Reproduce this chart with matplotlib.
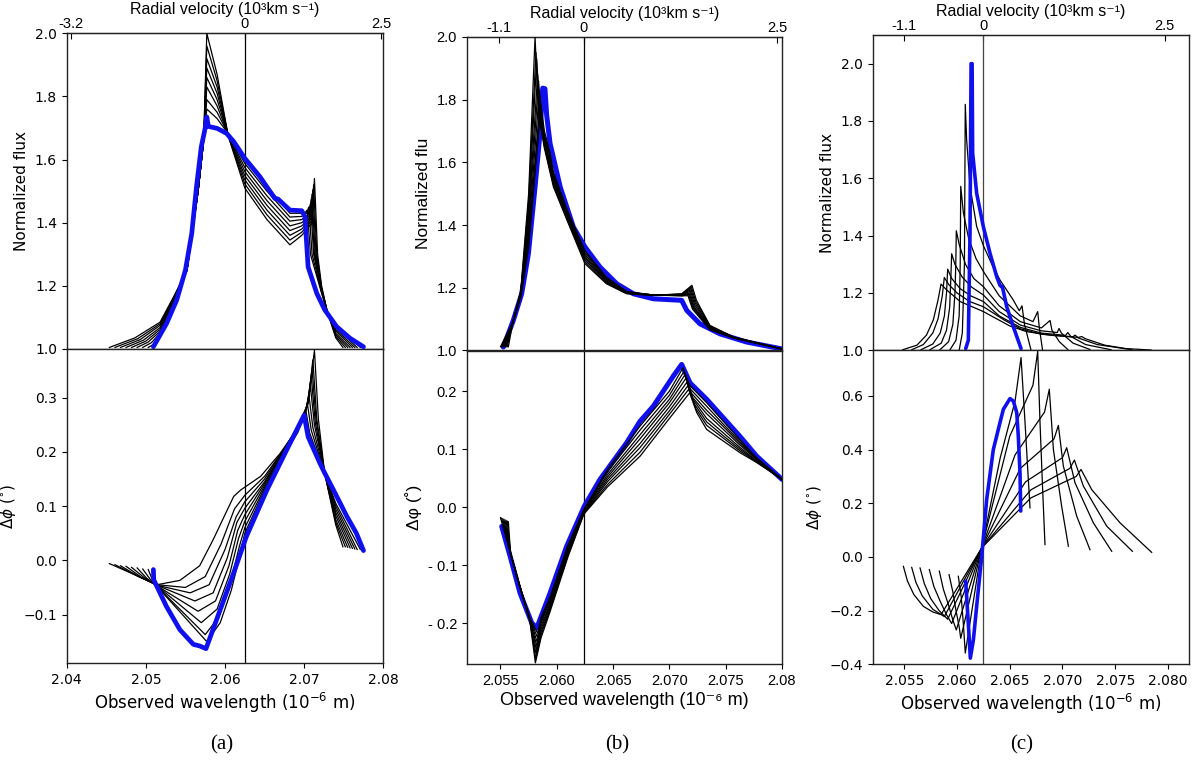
import matplotlib
matplotlib.use("Agg")
import matplotlib.pyplot as plt

C_KMS = 299792.458
W, H = 1200, 763

# ======================= panel (a) data =======================
a_lam0 = 2.0625
a_xlim = (2.04, 2.08)
a_xticks = [2.04, 2.05, 2.06, 2.07, 2.08]
a_xticklabels = ['2.04', '2.05', '2.06', '2.07', '2.08']
a_vticks = [-3.2, 0, 2.5]
a_vticklabels = ['-3.2', '0', '2.5']
a_flux_ylim = (1.0, 2.0)
a_flux_yticks = [1.0, 1.2, 1.4, 1.6, 1.8, 2.0]
a_flux_yticklabels = ['1.0', '1.2', '1.4', '1.6', '1.8', '2.0']
a_dphi_ylim = (-0.19, 0.39)
a_dphi_yticks = [-0.1, 0.0, 0.1, 0.2, 0.3]
a_dphi_yticklabels = ['\u22120.1', '0.0', '0.1', '0.2', '0.3']

a_flux_blue_x = [2.05095, 2.0526, 2.0539, 2.0550, 2.0558, 2.0564, 2.0570, 2.0575, 2.0577, 2.0579,
                 2.0590, 2.0602, 2.0611, 2.0625, 2.0644, 2.0663, 2.0667, 2.0682, 2.0697, 2.0701,
                 2.0705, 2.0716, 2.0726, 2.0741, 2.0758, 2.0775]
a_flux_blue_y = [1.007, 1.080, 1.155, 1.250, 1.366, 1.514, 1.640, 1.700, 1.735, 1.705,
                 1.699, 1.683, 1.657, 1.604, 1.546, 1.477, 1.475, 1.440, 1.438, 1.419,
                 1.260, 1.176, 1.124, 1.071, 1.034, 1.007]
a_flux_black_x = [
    [2.0454, 2.0486, 2.0518, 2.0536, 2.0552, 2.0566, 2.0573, 2.0577, 2.0590, 2.0604, 2.0625, 2.0653, 2.0682, 2.0697, 2.0710, 2.0713, 2.0717, 2.0722, 2.0729, 2.0740, 2.0749],
    [2.0461, 2.0490, 2.0518, 2.0536, 2.0552, 2.0566, 2.0573, 2.0577, 2.0590, 2.0604, 2.0625, 2.0653, 2.0682, 2.0697, 2.0709, 2.0712, 2.0716, 2.0722, 2.0729, 2.0740, 2.0752],
    [2.0468, 2.0493, 2.0518, 2.0536, 2.0552, 2.0566, 2.0573, 2.0577, 2.0590, 2.0604, 2.0625, 2.0653, 2.0682, 2.0697, 2.0708, 2.0711, 2.0715, 2.0722, 2.0729, 2.0740, 2.0755],
    [2.0475, 2.0497, 2.0518, 2.0536, 2.0552, 2.0566, 2.0573, 2.0577, 2.0590, 2.0604, 2.0625, 2.0653, 2.0682, 2.0697, 2.0707, 2.0710, 2.0714, 2.0722, 2.0729, 2.0740, 2.0758],
    [2.0482, 2.0500, 2.0518, 2.0536, 2.0552, 2.0566, 2.0573, 2.0577, 2.0590, 2.0604, 2.0625, 2.0653, 2.0682, 2.0697, 2.0706, 2.0709, 2.0713, 2.0722, 2.0729, 2.0740, 2.0761],
    [2.0489, 2.0503, 2.0518, 2.0536, 2.0552, 2.0566, 2.0573, 2.0577, 2.0590, 2.0604, 2.0625, 2.0653, 2.0682, 2.0697, 2.0705, 2.0708, 2.0712, 2.0722, 2.0729, 2.0740, 2.0764],
    [2.0496, 2.0507, 2.0518, 2.0536, 2.0552, 2.0566, 2.0573, 2.0577, 2.0590, 2.0604, 2.0625, 2.0653, 2.0682, 2.0697, 2.0703, 2.0706, 2.0710, 2.0722, 2.0729, 2.0740, 2.0767],
    [2.0503, 2.0510, 2.0518, 2.0536, 2.0552, 2.0566, 2.0573, 2.0577, 2.0590, 2.0604, 2.0625, 2.0653, 2.0682, 2.0697, 2.0701, 2.0704, 2.0708, 2.0722, 2.0729, 2.0740, 2.0771],
]
a_flux_black_y = [
    [1.005, 1.035, 1.085, 1.170, 1.250, 1.500, 1.660, 2.000, 1.870, 1.675, 1.510, 1.410, 1.330, 1.360, 1.400, 1.540, 1.300, 1.200, 1.120, 1.035, 1.005],
    [1.005, 1.033, 1.080, 1.167, 1.250, 1.500, 1.660, 1.960, 1.850, 1.676, 1.523, 1.425, 1.345, 1.370, 1.405, 1.520, 1.300, 1.195, 1.120, 1.040, 1.005],
    [1.005, 1.030, 1.075, 1.164, 1.250, 1.500, 1.660, 1.920, 1.830, 1.677, 1.536, 1.440, 1.360, 1.380, 1.410, 1.505, 1.300, 1.192, 1.120, 1.045, 1.005],
    [1.005, 1.028, 1.068, 1.161, 1.250, 1.500, 1.660, 1.890, 1.810, 1.678, 1.549, 1.455, 1.375, 1.390, 1.415, 1.490, 1.300, 1.189, 1.120, 1.050, 1.005],
    [1.005, 1.025, 1.062, 1.158, 1.250, 1.500, 1.660, 1.860, 1.790, 1.679, 1.562, 1.470, 1.390, 1.400, 1.420, 1.475, 1.300, 1.186, 1.120, 1.057, 1.005],
    [1.005, 1.022, 1.056, 1.155, 1.250, 1.500, 1.660, 1.830, 1.770, 1.680, 1.575, 1.485, 1.405, 1.410, 1.425, 1.460, 1.300, 1.183, 1.120, 1.062, 1.005],
    [1.005, 1.020, 1.050, 1.152, 1.250, 1.500, 1.660, 1.790, 1.750, 1.681, 1.588, 1.500, 1.418, 1.420, 1.430, 1.450, 1.300, 1.180, 1.120, 1.068, 1.005],
    [1.005, 1.015, 1.045, 1.150, 1.250, 1.500, 1.660, 1.760, 1.730, 1.682, 1.600, 1.515, 1.430, 1.430, 1.432, 1.440, 1.300, 1.177, 1.120, 1.075, 1.005],
]
a_dphi_blue_x = [2.05095, 2.0510, 2.0526, 2.0543, 2.0560, 2.0568, 2.0576, 2.0611, 2.0627, 2.0653,
                 2.0678, 2.0700, 2.0705, 2.0720, 2.0726, 2.0737, 2.0754, 2.0766, 2.0775]
a_dphi_blue_y = [-0.017, -0.036, -0.085, -0.128, -0.155, -0.158, -0.163, -0.023, 0.044, 0.130,
                 0.204, 0.268, 0.228, 0.179, 0.161, 0.130, 0.081, 0.050, 0.018]
a_dphi_black_x = [
    [2.0454, 2.0485, 2.0514, 2.0543, 2.0568, 2.0585, 2.0611, 2.0620, 2.0645, 2.0670, 2.0690, 2.0705, 2.0713, 2.0718, 2.0726, 2.0740, 2.0749],
    [2.0461, 2.0488, 2.0514, 2.0550, 2.0575, 2.0595, 2.0612, 2.0625, 2.0650, 2.0672, 2.0692, 2.0705, 2.0711, 2.0716, 2.0726, 2.0740, 2.0752],
    [2.0468, 2.0491, 2.0514, 2.0556, 2.0580, 2.0600, 2.0614, 2.0625, 2.0650, 2.0672, 2.0692, 2.0704, 2.0710, 2.0715, 2.0726, 2.0740, 2.0755],
    [2.0475, 2.0494, 2.0514, 2.0562, 2.0585, 2.0603, 2.0615, 2.0625, 2.0650, 2.0672, 2.0692, 2.0703, 2.0709, 2.0714, 2.0726, 2.0740, 2.0758],
    [2.0482, 2.0498, 2.0514, 2.0566, 2.0588, 2.0605, 2.0616, 2.0625, 2.0650, 2.0672, 2.0692, 2.0702, 2.0708, 2.0713, 2.0726, 2.0740, 2.0761],
    [2.0489, 2.0501, 2.0514, 2.0570, 2.0590, 2.0606, 2.0617, 2.0625, 2.0650, 2.0672, 2.0692, 2.0701, 2.0706, 2.0711, 2.0726, 2.0740, 2.0764],
    [2.0496, 2.0505, 2.0514, 2.0575, 2.0592, 2.0607, 2.0618, 2.0625, 2.0650, 2.0672, 2.0692, 2.0700, 2.0704, 2.0709, 2.0726, 2.0740, 2.0767],
    [2.0503, 2.0508, 2.0514, 2.0577, 2.0594, 2.0608, 2.0619, 2.0625, 2.0650, 2.0672, 2.0692, 2.0698, 2.0702, 2.0707, 2.0726, 2.0740, 2.0771],
]
a_dphi_black_y = [
    [-0.006, -0.026, -0.045, -0.037, -0.010, 0.038, 0.118, 0.130, 0.155, 0.198, 0.240, 0.290, 0.388, 0.260, 0.160, 0.065, 0.025],
    [-0.008, -0.028, -0.045, -0.050, -0.030, 0.030, 0.095, 0.120, 0.155, 0.200, 0.245, 0.290, 0.370, 0.260, 0.160, 0.070, 0.025],
    [-0.010, -0.030, -0.046, -0.060, -0.045, 0.020, 0.080, 0.108, 0.150, 0.200, 0.245, 0.285, 0.352, 0.260, 0.160, 0.075, 0.024],
    [-0.011, -0.031, -0.046, -0.075, -0.060, 0.005, 0.070, 0.096, 0.145, 0.198, 0.243, 0.280, 0.338, 0.255, 0.160, 0.082, 0.023],
    [-0.013, -0.032, -0.047, -0.094, -0.075, -0.010, 0.055, 0.084, 0.142, 0.196, 0.242, 0.275, 0.320, 0.250, 0.160, 0.088, 0.022],
    [-0.014, -0.033, -0.047, -0.115, -0.090, -0.025, 0.040, 0.072, 0.138, 0.194, 0.240, 0.270, 0.305, 0.245, 0.160, 0.094, 0.021],
    [-0.016, -0.034, -0.048, -0.137, -0.105, -0.040, 0.025, 0.060, 0.134, 0.192, 0.238, 0.265, 0.290, 0.240, 0.160, 0.100, 0.020],
    [-0.017, -0.035, -0.048, -0.150, -0.115, -0.055, 0.010, 0.050, 0.130, 0.190, 0.236, 0.260, 0.278, 0.235, 0.160, 0.105, 0.020],
]

# ======================= panel (b) data =======================
b_lam0 = 2.0624
b_xlim = (2.052, 2.080)
b_xticks = [2.055, 2.060, 2.065, 2.070, 2.075, 2.080]
b_xticklabels = ['2.055', '2.060', '2.065', '2.070', '2.075', '2.08']
b_vticks = [-1.1, 0, 2.5]
b_vticklabels = ['-1.1', '0', '2.5']
b_flux_ylim = (1.0, 2.0)
b_flux_yticks = [1.0, 1.2, 1.4, 1.6, 1.8, 2.0]
b_flux_yticklabels = ['1.0', '1.2', '1.4', '1.6', '1.8', '2.0']
b_dphi_ylim = (-0.27, 0.27)
b_dphi_yticks = [-0.2, -0.1, 0.0, 0.1, 0.2]
b_dphi_yticklabels = ['- 0.2', '- 0.1', '0.0', '0.1', '0.2']

b_flux_blue_x = [2.05525, 2.05614, 2.05688, 2.05748, 2.05807, 2.05851, 2.05875, 2.05895, 2.0591, 2.0594,
                 2.0603, 2.06147, 2.06251, 2.06384, 2.06532, 2.0668, 2.06857, 2.07109, 2.07154, 2.07272,
                 2.0745, 2.07686, 2.0800]
b_flux_blue_y = [1.011, 1.096, 1.181, 1.309, 1.522, 1.693, 1.837, 1.835, 1.751, 1.661,
                 1.522, 1.394, 1.330, 1.266, 1.213, 1.181, 1.165, 1.160, 1.128, 1.085,
                 1.053, 1.027, 1.005]
b_flux_black_x = [
    [2.0550, 2.0561, 2.0568, 2.0575, 2.05807, 2.05837, 2.05887, 2.0597, 2.0609, 2.0625, 2.0644, 2.0662, 2.0686, 2.0711, 2.07200, 2.07240, 2.0736, 2.0757, 2.0800],
    [2.0551, 2.0561, 2.0568, 2.0575, 2.05815, 2.05845, 2.05895, 2.0597, 2.0609, 2.0625, 2.0644, 2.0662, 2.0686, 2.0711, 2.07195, 2.07235, 2.0736, 2.0757, 2.0800],
    [2.0552, 2.0561, 2.0568, 2.0575, 2.05822, 2.05852, 2.05902, 2.0597, 2.0609, 2.0625, 2.0644, 2.0662, 2.0686, 2.0711, 2.07190, 2.07230, 2.0736, 2.0757, 2.0800],
    [2.0553, 2.0561, 2.0568, 2.0575, 2.05830, 2.05860, 2.05910, 2.0597, 2.0609, 2.0625, 2.0644, 2.0662, 2.0686, 2.0711, 2.07185, 2.07225, 2.0736, 2.0757, 2.0800],
    [2.0554, 2.0561, 2.0568, 2.0575, 2.05838, 2.05868, 2.05918, 2.0597, 2.0609, 2.0625, 2.0644, 2.0662, 2.0686, 2.0711, 2.07180, 2.07220, 2.0736, 2.0757, 2.0800],
    [2.0555, 2.0561, 2.0568, 2.0575, 2.05846, 2.05876, 2.05926, 2.0597, 2.0609, 2.0625, 2.0644, 2.0662, 2.0686, 2.0711, 2.07175, 2.07215, 2.0736, 2.0757, 2.0800],
    [2.0556, 2.0561, 2.0568, 2.0575, 2.05853, 2.05883, 2.05933, 2.0597, 2.0609, 2.0625, 2.0644, 2.0662, 2.0686, 2.0711, 2.07170, 2.07210, 2.0736, 2.0757, 2.0800],
    [2.0557, 2.0561, 2.0568, 2.0575, 2.05860, 2.05890, 2.05940, 2.0597, 2.0609, 2.0625, 2.0644, 2.0662, 2.0686, 2.0711, 2.07165, 2.07205, 2.0736, 2.0757, 2.0800],
]
b_flux_black_y = [
    [1.012, 1.090, 1.190, 1.500, 2.000, 1.760, 1.650, 1.522, 1.416, 1.277, 1.213, 1.181, 1.176, 1.181, 1.208, 1.160, 1.080, 1.043, 1.005],
    [1.012, 1.090, 1.187, 1.476, 1.950, 1.745, 1.645, 1.529, 1.421, 1.283, 1.216, 1.182, 1.176, 1.180, 1.203, 1.155, 1.078, 1.043, 1.005],
    [1.012, 1.090, 1.184, 1.451, 1.930, 1.730, 1.640, 1.536, 1.426, 1.289, 1.219, 1.183, 1.176, 1.179, 1.198, 1.150, 1.076, 1.042, 1.005],
    [1.012, 1.090, 1.181, 1.427, 1.880, 1.720, 1.640, 1.543, 1.431, 1.295, 1.222, 1.184, 1.176, 1.178, 1.193, 1.145, 1.074, 1.042, 1.005],
    [1.012, 1.090, 1.179, 1.403, 1.860, 1.710, 1.635, 1.550, 1.435, 1.300, 1.225, 1.185, 1.177, 1.177, 1.188, 1.140, 1.072, 1.041, 1.005],
    [1.012, 1.090, 1.176, 1.379, 1.830, 1.700, 1.635, 1.557, 1.440, 1.306, 1.228, 1.186, 1.177, 1.176, 1.183, 1.138, 1.070, 1.041, 1.005],
    [1.012, 1.090, 1.173, 1.354, 1.800, 1.700, 1.630, 1.563, 1.445, 1.312, 1.231, 1.187, 1.177, 1.175, 1.179, 1.135, 1.068, 1.040, 1.005],
    [1.012, 1.090, 1.170, 1.330, 1.780, 1.700, 1.630, 1.570, 1.450, 1.318, 1.234, 1.188, 1.177, 1.174, 1.175, 1.132, 1.066, 1.040, 1.005],
]
b_dphi_blue_x = [2.05511, 2.05585, 2.05674, 2.05777, 2.05822, 2.0594, 2.06088, 2.06245, 2.06384, 2.0662,
                 2.06739, 2.06857, 2.07035, 2.07109, 2.07184, 2.07331, 2.07479, 2.07627, 2.07775, 2.0800]
b_dphi_blue_y = [-0.033, -0.084, -0.148, -0.199, -0.208, -0.148, -0.067, 0.002, 0.048, 0.111,
                 0.148, 0.174, 0.226, 0.246, 0.214, 0.186, 0.154, 0.122, 0.088, 0.048]
b_dphi_black_x = [
    [2.0550, 2.0559, 2.0567, 2.0576, 2.05810, 2.0586, 2.0594, 2.0610, 2.0624, 2.0645, 2.0674, 2.0700, 2.07180, 2.07243, 2.07331, 2.07479, 2.07627, 2.07775, 2.0800],
    [2.0551, 2.0559, 2.0567, 2.0576, 2.05813, 2.0586, 2.0594, 2.0610, 2.0624, 2.0645, 2.0674, 2.0700, 2.07171, 2.07234, 2.07331, 2.07479, 2.07627, 2.07775, 2.0800],
    [2.0552, 2.0559, 2.0567, 2.0576, 2.05816, 2.0586, 2.0594, 2.0610, 2.0624, 2.0645, 2.0674, 2.0700, 2.07163, 2.07225, 2.07331, 2.07479, 2.07627, 2.07775, 2.0800],
    [2.0553, 2.0559, 2.0567, 2.0576, 2.05819, 2.0586, 2.0594, 2.0610, 2.0624, 2.0645, 2.0674, 2.0700, 2.07154, 2.07216, 2.07331, 2.07479, 2.07627, 2.07775, 2.0800],
    [2.0554, 2.0559, 2.0567, 2.0576, 2.05822, 2.0586, 2.0594, 2.0610, 2.0624, 2.0645, 2.0674, 2.0700, 2.07146, 2.07207, 2.07331, 2.07479, 2.07627, 2.07775, 2.0800],
    [2.0555, 2.0559, 2.0567, 2.0576, 2.05825, 2.0586, 2.0594, 2.0610, 2.0624, 2.0645, 2.0674, 2.0700, 2.07137, 2.07198, 2.07331, 2.07479, 2.07627, 2.07775, 2.0800],
    [2.0556, 2.0559, 2.0567, 2.0576, 2.05828, 2.0586, 2.0594, 2.0610, 2.0624, 2.0645, 2.0674, 2.0700, 2.07129, 2.07189, 2.07331, 2.07479, 2.07627, 2.07775, 2.0800],
    [2.0557, 2.0559, 2.0567, 2.0576, 2.05830, 2.0586, 2.0594, 2.0610, 2.0624, 2.0645, 2.0674, 2.0700, 2.07120, 2.07180, 2.07331, 2.07479, 2.07627, 2.07775, 2.0800],
]
b_dphi_black_y = [
    [-0.018, -0.080, -0.135, -0.195, -0.268, -0.225, -0.180, -0.085, -0.012, 0.035, 0.088, 0.153, 0.197, 0.163, 0.134, 0.114, 0.094, 0.077, 0.048],
    [-0.019, -0.080, -0.135, -0.194, -0.261, -0.220, -0.176, -0.082, -0.011, 0.039, 0.095, 0.160, 0.203, 0.170, 0.141, 0.119, 0.097, 0.078, 0.048],
    [-0.020, -0.080, -0.135, -0.194, -0.253, -0.215, -0.173, -0.079, -0.010, 0.044, 0.103, 0.166, 0.209, 0.177, 0.147, 0.123, 0.100, 0.079, 0.048],
    [-0.021, -0.080, -0.135, -0.193, -0.246, -0.210, -0.169, -0.076, -0.009, 0.048, 0.110, 0.173, 0.215, 0.184, 0.153, 0.128, 0.103, 0.080, 0.048],
    [-0.022, -0.080, -0.135, -0.192, -0.239, -0.205, -0.166, -0.074, -0.007, 0.052, 0.118, 0.180, 0.222, 0.189, 0.161, 0.134, 0.107, 0.082, 0.048],
    [-0.023, -0.080, -0.135, -0.191, -0.232, -0.200, -0.162, -0.071, -0.006, 0.056, 0.125, 0.186, 0.228, 0.196, 0.167, 0.139, 0.110, 0.083, 0.048],
    [-0.024, -0.080, -0.135, -0.191, -0.224, -0.195, -0.159, -0.068, -0.005, 0.061, 0.133, 0.193, 0.234, 0.203, 0.174, 0.143, 0.113, 0.084, 0.048],
    [-0.025, -0.080, -0.135, -0.190, -0.217, -0.190, -0.155, -0.065, -0.004, 0.065, 0.140, 0.200, 0.240, 0.210, 0.180, 0.148, 0.116, 0.085, 0.048],
]

# ======================= panel (c) data =======================
c_lam0 = 2.0625
c_xlim = (2.052, 2.082)
c_xticks = [2.055, 2.060, 2.065, 2.070, 2.075, 2.080]
c_xticklabels = ['2.055', '2.060', '2.065', '2.070', '2.075', '2.080']
c_vticks = [-1.1, 0, 2.5]
c_vticklabels = ['-1.1', '0', '2.5']
c_flux_ylim = (1.0, 2.1)
c_flux_yticks = [1.0, 1.2, 1.4, 1.6, 1.8, 2.0]
c_flux_yticklabels = ['1.0', '1.2', '1.4', '1.6', '1.8', '2.0']
c_dphi_ylim = (-0.4, 0.77)
c_dphi_yticks = [-0.4, -0.2, 0.0, 0.2, 0.4, 0.6]
c_dphi_yticklabels = ['\u22120.4', '\u22120.2', '0.0', '0.2', '0.4', '0.6']

c_flux_blue_x = [2.06082, 2.06107, 2.06123, 2.06133, 2.06143, 2.06148, 2.06186, 2.06249, 2.06313, 2.06376,
                 2.06407, 2.06420, 2.06430, 2.06471, 2.06534, 2.06607]
c_flux_blue_y = [1.006, 1.035, 1.408, 2.000, 2.000, 1.688, 1.548, 1.432, 1.338, 1.257,
                 1.227, 1.222, 1.222, 1.152, 1.082, 1.006]
c_flux_black_x = [
    [2.06021, 2.0605, 2.0607, 2.06078, 2.06091, 2.06123, 2.06186, 2.0625, 2.0633, 2.06408, 2.06534, 2.0659, 2.06616, 2.0664, 2.0670],
    [2.05933, 2.0599, 2.0602, 2.0603, 2.06035, 2.0606, 2.0611, 2.0618, 2.0625, 2.0640, 2.0660, 2.0672, 2.06765, 2.0678, 2.0681],
    [2.05838, 2.0592, 2.0596, 2.0598, 2.05988, 2.05993, 2.0602, 2.0608, 2.0616, 2.0625, 2.0640, 2.0660, 2.0680, 2.06882, 2.0690, 2.0697, 2.0705],
    [2.05743, 2.0585, 2.0590, 2.0593, 2.0594, 2.05949, 2.0598, 2.0605, 2.0614, 2.0625, 2.0640, 2.0660, 2.0680, 2.0695, 2.06967, 2.0699, 2.0710, 2.0726],
    [2.05658, 2.0577, 2.0584, 2.0588, 2.0590, 2.05911, 2.0595, 2.0603, 2.0613, 2.0625, 2.0640, 2.0660, 2.0680, 2.0703, 2.0705, 2.0708, 2.0722, 2.0746],
    [2.05570, 2.0568, 2.0577, 2.0582, 2.0586, 2.05879, 2.0592, 2.0600, 2.0612, 2.0625, 2.0645, 2.0660, 2.0680, 2.0710, 2.07119, 2.0715, 2.0733, 2.0766],
    [2.05485, 2.0562, 2.0571, 2.05775, 2.0582, 2.05848, 2.0590, 2.0603, 2.0625, 2.0650, 2.0666, 2.0690, 2.0715, 2.07182, 2.0722, 2.0740, 2.0760, 2.0784],
]
c_flux_black_y = [
    [1.002, 1.060, 1.300, 1.858, 1.735, 1.572, 1.432, 1.365, 1.300, 1.245, 1.175, 1.138, 1.155, 1.090, 1.003],
    [1.002, 1.035, 1.120, 1.300, 1.572, 1.480, 1.390, 1.320, 1.275, 1.190, 1.120, 1.100, 1.135, 1.080, 1.003],
    [1.002, 1.030, 1.090, 1.200, 1.300, 1.417, 1.370, 1.300, 1.250, 1.222, 1.155, 1.100, 1.078, 1.104, 1.070, 1.030, 1.003],
    [1.002, 1.025, 1.070, 1.150, 1.240, 1.337, 1.300, 1.255, 1.220, 1.193, 1.135, 1.088, 1.068, 1.062, 1.076, 1.060, 1.025, 1.003],
    [1.002, 1.022, 1.060, 1.120, 1.200, 1.283, 1.250, 1.215, 1.190, 1.170, 1.120, 1.080, 1.060, 1.052, 1.062, 1.048, 1.020, 1.002],
    [1.002, 1.020, 1.060, 1.110, 1.190, 1.254, 1.230, 1.200, 1.170, 1.152, 1.105, 1.075, 1.056, 1.047, 1.053, 1.043, 1.020, 1.002],
    [1.002, 1.018, 1.053, 1.106, 1.176, 1.231, 1.211, 1.170, 1.135, 1.085, 1.065, 1.052, 1.045, 1.048, 1.040, 1.018, 1.006, 1.001],
]
c_dphi_blue_x = [2.06082, 2.06115, 2.06126, 2.06155, 2.06186, 2.06234, 2.06281, 2.06344, 2.06407, 2.06439,
                 2.06502, 2.06534, 2.06566, 2.06581, 2.06597, 2.06604]
c_dphi_blue_y = [-0.090, -0.300, -0.377, -0.309, -0.184, 0.002, 0.214, 0.400, 0.500, 0.550,
                 0.590, 0.581, 0.538, 0.450, 0.314, 0.171]
c_dphi_black_x = [
    [2.06012, 2.0604, 2.0606, 2.06078, 2.06234, 2.0641, 2.0655, 2.06607, 2.06645, 2.06676, 2.06692],
    [2.05924, 2.0596, 2.0599, 2.0602, 2.06035, 2.06234, 2.0650, 2.0672, 2.06765, 2.06787, 2.06812, 2.06834],
    [2.05832, 2.0587, 2.0592, 2.0596, 2.05993, 2.06234, 2.0655, 2.0683, 2.06875, 2.06914, 2.06992, 2.07056],
    [2.05737, 2.0578, 2.0584, 2.0590, 2.05949, 2.06234, 2.0660, 2.0692, 2.06961, 2.07008, 2.07135, 2.07261],
    [2.05649, 2.0569, 2.0575, 2.0583, 2.05911, 2.06234, 2.0665, 2.0700, 2.07040, 2.07119, 2.07293, 2.07467],
    [2.05570, 2.0561, 2.0567, 2.0577, 2.05879, 2.06234, 2.0670, 2.0707, 2.07113, 2.07198, 2.07419, 2.07663],
    [2.05491, 2.0553, 2.0559, 2.0568, 2.0577, 2.05848, 2.06234, 2.0670, 2.0713, 2.07176, 2.07277, 2.07546, 2.07846],
]
c_dphi_black_y = [
    [-0.072, -0.150, -0.250, -0.358, 0.034, 0.370, 0.580, 0.743, 0.500, 0.289, 0.183],
    [-0.066, -0.130, -0.200, -0.260, -0.303, 0.034, 0.450, 0.640, 0.766, 0.500, 0.250, 0.046],
    [-0.053, -0.120, -0.180, -0.235, -0.272, 0.034, 0.380, 0.540, 0.625, 0.400, 0.189, 0.040],
    [-0.047, -0.110, -0.165, -0.215, -0.248, 0.034, 0.330, 0.440, 0.490, 0.339, 0.152, 0.027],
    [-0.041, -0.100, -0.155, -0.200, -0.232, 0.034, 0.280, 0.370, 0.407, 0.276, 0.127, 0.021],
    [-0.039, -0.095, -0.145, -0.195, -0.222, 0.034, 0.250, 0.330, 0.361, 0.264, 0.115, 0.021],
    [-0.035, -0.090, -0.140, -0.184, -0.205, -0.215, 0.034, 0.220, 0.300, 0.326, 0.251, 0.127, 0.017],
]

captions = ['(a)', '(b)', '(c)']
caption_x = [222, 617, 1022]

BLUE = '#1010ee'


def frac_x(px):
    return px / W


def frac_y(py):
    return 1 - py / H


def draw_panel(left_px, right_px, top_px, mid_px, bot_px, lam0, xlim, xticks, xticklabels,
               vticks, vticklabels, fylim, fyticks, fyticklabels, dylim, dyticks, dyticklabels,
               flux_bx, flux_by, flux_kx, flux_ky, dphi_bx, dphi_by, dphi_kx, dphi_ky,
               fam, ylab_flux, ylab_dphi, xlab, blue_lw, blue_z, tick_fs, lab_fs, xlab_fs,
               vline_col):
    l = frac_x(left_px)
    w = frac_x(right_px) - l
    axt = fig.add_axes([l, frac_y(mid_px), w, frac_y(top_px) - frac_y(mid_px)])
    axb = fig.add_axes([l, frac_y(bot_px), w, frac_y(mid_px) - frac_y(bot_px)], sharex=axt)

    for xs, ys in zip(flux_kx, flux_ky):
        axt.plot(xs, ys, color='black', lw=0.9, zorder=3)
    axt.plot(flux_bx, flux_by, color=BLUE, lw=blue_lw, zorder=blue_z, solid_capstyle='round')
    for xs, ys in zip(dphi_kx, dphi_ky):
        axb.plot(xs, ys, color='black', lw=0.9, zorder=3)
    axb.plot(dphi_bx, dphi_by, color=BLUE, lw=blue_lw, zorder=blue_z, solid_capstyle='round')

    for ax in (axt, axb):
        ax.axvline(lam0, color=vline_col, lw=0.9, zorder=1)
        for s in ax.spines.values():
            s.set_linewidth(1.0)
            s.set_color('#222222')

    fams = [fam, 'DejaVu Sans']
    axt.set_xlim(*xlim)
    axt.set_ylim(*fylim)
    axb.set_ylim(*dylim)
    axt.set_yticks(fyticks, labels=fyticklabels, fontfamily=fams, fontsize=tick_fs)
    axb.set_yticks(dyticks, labels=dyticklabels, fontfamily=fams, fontsize=tick_fs)
    axb.set_xticks(xticks, labels=xticklabels, fontfamily=fams, fontsize=tick_fs)
    axt.tick_params(axis='x', bottom=False, labelbottom=False)
    axb.tick_params(axis='x', top=False)

    axt.set_ylabel(ylab_flux, fontfamily=fams, fontsize=lab_fs)
    axb.set_ylabel(ylab_dphi, fontfamily=fams, fontsize=lab_fs)
    axb.set_xlabel(xlab, fontfamily=fams, fontsize=xlab_fs, labelpad=3)

    to_v = lambda lam: C_KMS * (lam - lam0) / lam0 / 1000.0
    to_lam = lambda v: lam0 * (1 + v * 1000.0 / C_KMS)
    sec = axt.secondary_xaxis('top', functions=(to_v, to_lam))
    sec.set_xticks(vticks, labels=vticklabels, fontfamily='Liberation Sans', fontsize=10.5)
    sec.tick_params(direction='in', pad=1.5, length=4)
    sec.set_xlabel('Radial velocity (10\u00b3km s\u207b\u00b9)',
                   fontfamily=['Liberation Sans', 'DejaVu Sans'], fontsize=11.5, labelpad=2)
    return axt, axb


fig = plt.figure(figsize=(W / 100, H / 100), dpi=100)

xlab_dejavu = r'Observed wavelength ($10^{-6}$ m)'

draw_panel(66.7, 383.3, 33.3, 349, 663.3, a_lam0, a_xlim, a_xticks, a_xticklabels,
           a_vticks, a_vticklabels, a_flux_ylim, a_flux_yticks, a_flux_yticklabels,
           a_dphi_ylim, a_dphi_yticks, a_dphi_yticklabels,
           a_flux_blue_x, a_flux_blue_y, a_flux_black_x, a_flux_black_y,
           a_dphi_blue_x, a_dphi_blue_y, a_dphi_black_x, a_dphi_black_y,
           'DejaVu Sans', 'Normalized flux', r'$\Delta\phi$ ($^{\circ}$)', xlab_dejavu,
           3.4, 5, 10, 11, 12, 'black')

draw_panel(466.7, 782, 37, 350.5, 664, b_lam0, b_xlim, b_xticks, b_xticklabels,
           b_vticks, b_vticklabels, b_flux_ylim, b_flux_yticks, b_flux_yticklabels,
           b_dphi_ylim, b_dphi_yticks, b_dphi_yticklabels,
           b_flux_blue_x, b_flux_blue_y, b_flux_black_x, b_flux_black_y,
           b_dphi_blue_x, b_dphi_blue_y, b_dphi_black_x, b_dphi_black_y,
           'Liberation Sans', 'Normalized flu', '\u0394\u03c6 (\u02da)',
           'Observed wavelength (10\u207b\u2076 m)',
           3.6, 2, 10.5, 12.5, 13, 'black')

draw_panel(872.7, 1189, 35, 350.3, 664.3, c_lam0, c_xlim, c_xticks, c_xticklabels,
           c_vticks, c_vticklabels, c_flux_ylim, c_flux_yticks, c_flux_yticklabels,
           c_dphi_ylim, c_dphi_yticks, c_dphi_yticklabels,
           c_flux_blue_x, c_flux_blue_y, c_flux_black_x, c_flux_black_y,
           c_dphi_blue_x, c_dphi_blue_y, c_dphi_black_x, c_dphi_black_y,
           'DejaVu Sans', 'Normalized flux', r'$\Delta\phi$ ($^{\circ}$)', xlab_dejavu,
           2.6, 5, 10, 11, 12, '#444444')

for cap, cx in zip(captions, caption_x):
    fig.text(frac_x(cx), frac_y(745), cap, fontfamily='Liberation Serif', fontsize=15,
             ha='center', va='center')

fig.savefig('out.png', dpi=100)
